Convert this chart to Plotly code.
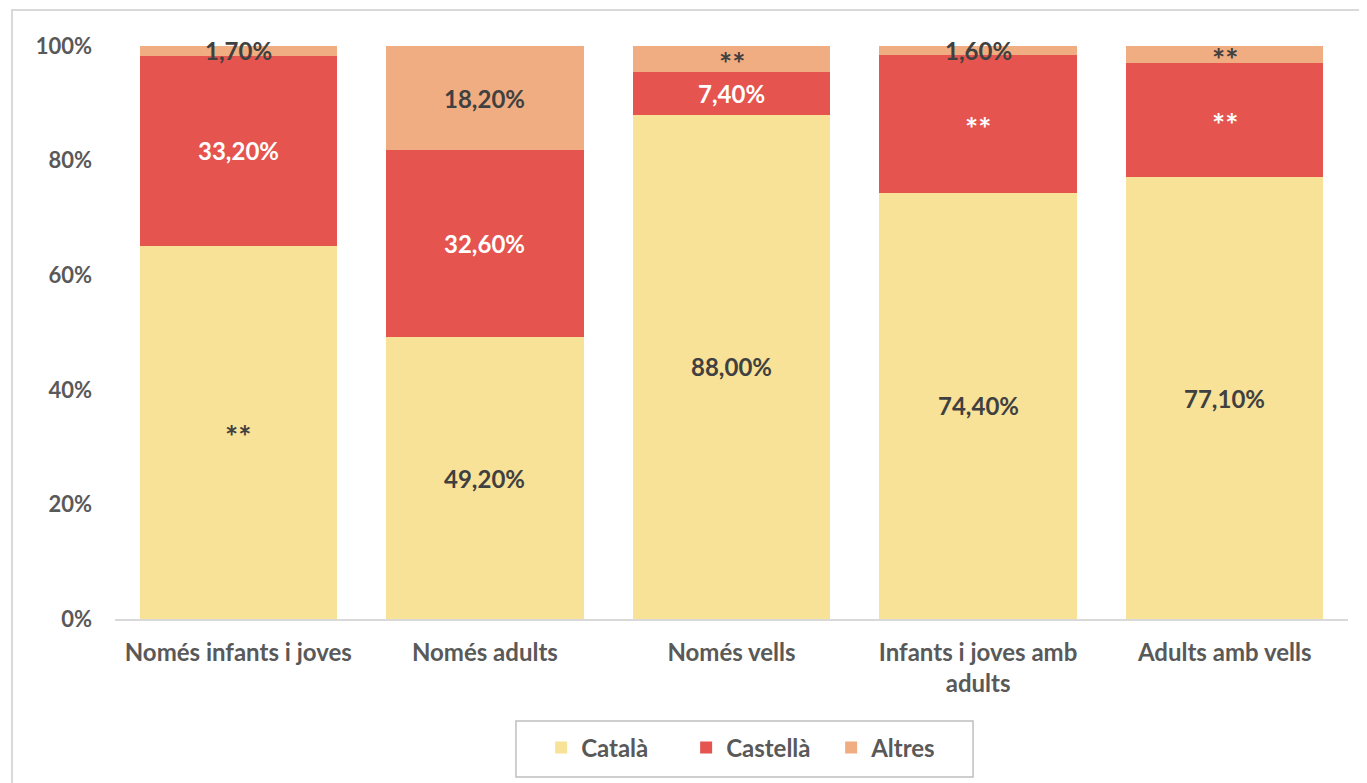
import plotly.graph_objects as go

categories = ["Només infants i joves", "Només adults", "Només vells",
              "Infants i joves amb<br>adults", "Adults amb vells"]
catala = [65.1, 49.2, 88.0, 74.4, 77.1]
castella = [33.2, 32.6, 7.4, 24.0, 19.9]
altres = [1.7, 18.2, 4.6, 1.6, 3.0]
catala_labels = ["**", "49,20%", "88,00%", "74,40%", "77,10%"]
castella_labels = ["33,20%", "32,60%", "7,40%", "**", "**"]
altres_labels = ["1,70%", "18,20%", "**", "1,60%", "**"]
y_ticks = [0, 20, 40, 60, 80, 100]
y_ticktext = ["0%", "20%", "40%", "60%", "80%", "100%"]

FONT = "Lato"
fig = go.Figure()
series = [
    ("Català", catala, catala_labels, "#F8E298", "#404040"),
    ("Castellà", castella, castella_labels, "#E5544F", "#FFFFFF"),
    ("Altres", altres, altres_labels, "#F0AD82", "#404040"),
]
base = [0.0] * len(categories)
annotations = []
for name, vals, labels, color, tcolor in series:
    fig.add_trace(go.Bar(
        name=name, x=categories, y=vals,
        marker=dict(color=color, line=dict(width=0)),
    ))
    for i, (v, lab) in enumerate(zip(vals, labels)):
        annotations.append(dict(
            x=categories[i], y=base[i] + v / 2, xref="x", yref="y",
            text=lab, showarrow=False,
            font=dict(family=FONT, size=31 if lab == "**" else 24,
                      color=tcolor, weight="bold"),
            yshift=-4 if lab == "**" else 0,
        ))
        base[i] += v

fig.update_layout(
    barmode="stack", bargap=0.2,
    width=1359, height=775,
    margin=dict(l=107, r=19, t=38, b=164),
    plot_bgcolor="white", paper_bgcolor="white",
    font=dict(family=FONT, size=24, color="#595959"),
    showlegend=True,
    annotations=annotations,
    legend=dict(orientation="h", x=0.522, xanchor="center", y=-0.225, yanchor="middle",
                borderwidth=0, bgcolor="rgba(0,0,0,0)",
                font=dict(family=FONT, size=24, color="#595959", weight="bold"),
                entrywidth=100, itemwidth=30, traceorder="normal"),
    shapes=[
        dict(type="rect", xref="paper", yref="paper", x0=-0.0835, x1=1.03,
             y0=-0.32, y1=1.0628, line=dict(color="#D9D9D9", width=2),
             fillcolor="rgba(0,0,0,0)", layer="below"),
        dict(type="rect", xref="paper", yref="paper", x0=0.3252, x1=0.6959,
             y0=-0.2757, y1=-0.178, line=dict(color="#BFBFBF", width=1.5),
             fillcolor="rgba(0,0,0,0)", layer="below"),
    ],
)
fig.update_xaxes(showline=True, linecolor="#D9D9D9", linewidth=2, ticks="",
                 ticklabelstandoff=11,
                 tickfont=dict(family=FONT, size=24, color="#595959", weight="bold"))
fig.update_yaxes(range=[0, 100], tickvals=y_ticks, ticktext=y_ticktext, showgrid=False,
                 zeroline=False, showline=False, ticklabelstandoff=22,
                 tickfont=dict(family=FONT, size=22, color="#595959", weight="bold"))

fig.write_html("out.html")
